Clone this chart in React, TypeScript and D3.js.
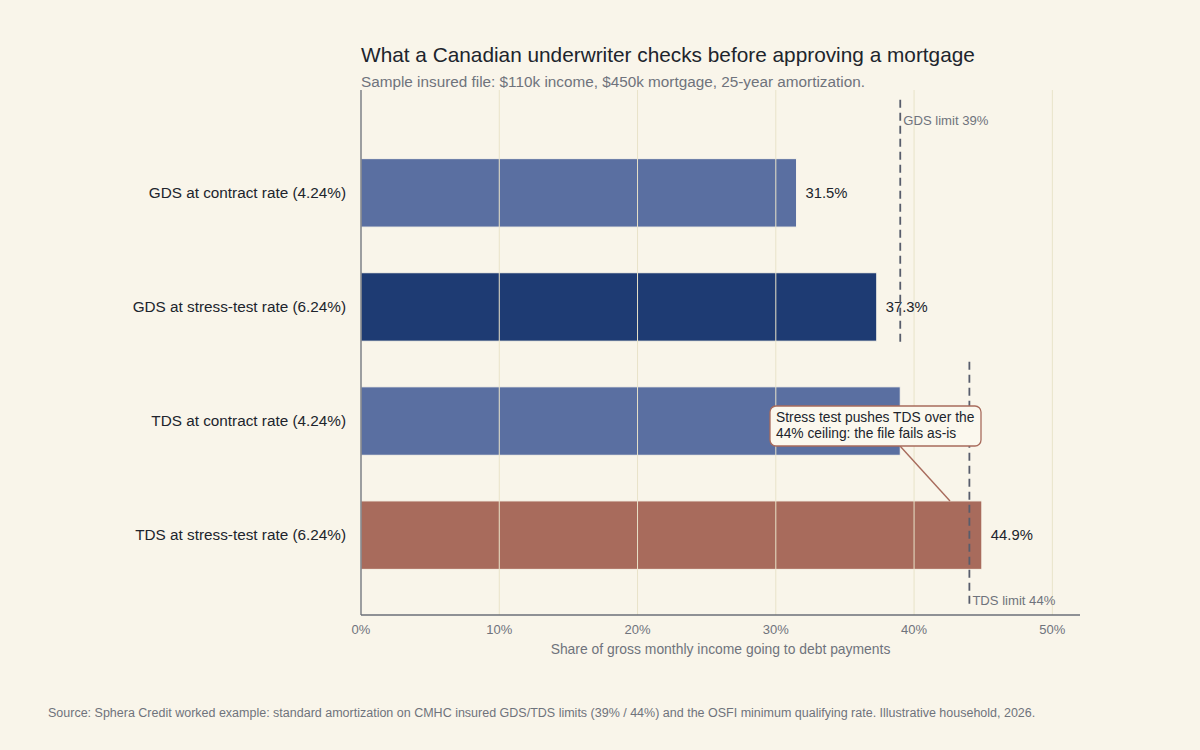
import React from "react";
import * as d3 from "d3";

// Debt-service ratios for a sample insured mortgage file
const categories = [
  "GDS at contract rate (4.24%)",
  "GDS at stress-test rate (6.24%)",
  "TDS at contract rate (4.24%)",
  "TDS at stress-test rate (6.24%)",
];
const ratios = [31.5, 37.3, 39.0, 44.9];
const barColors = ["#5a6fa1", "#1e3b73", "#5a6fa1", "#a86b5c"];

const xTicks = [0, 10, 20, 30, 40, 50];
const limits = [
  { label: "GDS limit 39%", value: 39, rows: [0, 1], labelAt: "top" },
  { label: "TDS limit 44%", value: 44, rows: [2, 3], labelAt: "bottom" },
];

const W = 1200;
const H = 750;
const FONT = "'Liberation Sans', Arial, Helvetica, sans-serif";
const BG = "#f9f5ea";
const GRID = "#e9e3c9";
const AXIS = "#6b6f78";
const MUTED = "#6f737c";
const INK = "#20242c";
const ACCENT = "#a86b5c";

export default function App() {
  const plotLeft = 361;
  const plotRight = 1080;
  const plotTop = 90;
  const plotBottom = 615;

  const x = d3.scaleLinear().domain([0, 52]).range([plotLeft, plotRight]);
  const y = d3
    .scaleBand<string>()
    .domain(categories)
    .range([113, plotBottom])
    .padding(0.4);
  const bw = y.bandwidth();

  const annoBox = { x: 770, y: 406, w: 211, h: 40 };
  const failRow = 3;

  // a value label sitting under the callout box is not drawn
  const underCallout = (lx: number, ly: number) =>
    lx > annoBox.x && lx < annoBox.x + annoBox.w && ly > annoBox.y && ly < annoBox.y + annoBox.h;

  return (
    <div style={{ position: "fixed", left: 0, top: 0 }}>
      <svg width={W} height={H} style={{ display: "block", fontFamily: FONT }}>
        <rect width={W} height={H} fill={BG} />

        <text x={361} y={62} fontSize={20.8} fill={INK}>
          What a Canadian underwriter checks before approving a mortgage
        </text>
        <text x={361} y={87} fontSize={15.3} fill={MUTED}>
          Sample insured file: $110k income, $450k mortgage, 25-year amortization.
        </text>

        {/* bars */}
        {categories.map((c, i) => (
          <rect
            key={c}
            x={x(0)}
            y={y(c)!}
            width={x(ratios[i]) - x(0)}
            height={bw}
            fill={barColors[i]}
            stroke={BG}
            strokeWidth={1}
          />
        ))}

        {/* vertical gridlines over the bars */}
        {xTicks
          .filter((t) => t > 0)
          .map((t) => (
            <line
              key={t}
              x1={x(t)}
              x2={x(t)}
              y1={plotTop}
              y2={plotBottom}
              stroke={GRID}
              strokeWidth={1}
            />
          ))}

        {/* axes */}
        <line x1={plotLeft} x2={plotLeft} y1={plotTop} y2={plotBottom} stroke={AXIS} strokeWidth={1.3} />
        <line x1={plotLeft} x2={plotRight} y1={plotBottom} y2={plotBottom} stroke={AXIS} strokeWidth={1.3} />

        {xTicks.map((t) => (
          <text key={t} x={x(t)} y={634} fontSize={13} fill={MUTED} textAnchor="middle">
            {t}%
          </text>
        ))}
        <text x={(plotLeft + plotRight) / 2} y={654} fontSize={13.9} fill={MUTED} textAnchor="middle">
          Share of gross monthly income going to debt payments
        </text>

        {/* category labels */}
        {categories.map((c) => (
          <text
            key={c}
            x={346}
            y={y(c)! + bw / 2}
            dy="0.35em"
            fontSize={15.3}
            fill={INK}
            textAnchor="end"
          >
            {c}
          </text>
        ))}

        {/* value labels */}
        {categories.map((c, i) => {
          const lx = x(ratios[i]) + 9;
          const ly = y(c)! + bw / 2;
          if (underCallout(lx, ly)) return null;
          return (
            <text key={c} x={lx} y={ly} dy="0.35em" fontSize={14.8} fill={INK}>
              {ratios[i].toFixed(1)}%
            </text>
          );
        })}

        {/* regulatory limits */}
        {limits.map((l) => {
          const top = y(categories[l.rows[0]])! - (l.labelAt === "top" ? 59 : 25);
          const bottom = y(categories[l.rows[1]])! + bw + (l.labelAt === "bottom" ? 37 : 1);
          return (
            <g key={l.label}>
              <line
                x1={x(l.value)}
                x2={x(l.value)}
                y1={top}
                y2={bottom}
                stroke="#585d6c"
                strokeWidth={1.8}
                strokeDasharray="8,5"
              />
              <text
                x={x(l.value) + 3}
                y={l.labelAt === "top" ? top + 25 : bottom - 1}
                fontSize={13.1}
                fill={MUTED}
              >
                {l.label}
              </text>
            </g>
          );
        })}

        {/* callout on the failing ratio */}
        <line
          x1={900}
          y1={annoBox.y + annoBox.h}
          x2={950}
          y2={y(categories[failRow])!}
          stroke={ACCENT}
          strokeWidth={1.4}
        />
        <rect
          x={annoBox.x}
          y={annoBox.y}
          width={annoBox.w}
          height={annoBox.h}
          rx={6}
          fill="#fbf8ee"
          stroke={ACCENT}
          strokeWidth={1.3}
        />
        <text x={annoBox.x + 6} y={annoBox.y + 16} fontSize={13.8} fill={INK}>
          Stress test pushes TDS over the
        </text>
        <text x={annoBox.x + 6} y={annoBox.y + 32} fontSize={13.8} fill={INK}>
          44% ceiling: the file fails as-is
        </text>

        <text x={48} y={717} fontSize={12.5} fill={MUTED}>
          Source: Sphera Credit worked example: standard amortization on CMHC insured GDS/TDS limits (39% / 44%) and the OSFI minimum qualifying rate. Illustrative household, 2026.
        </text>
      </svg>
    </div>
  );
}
